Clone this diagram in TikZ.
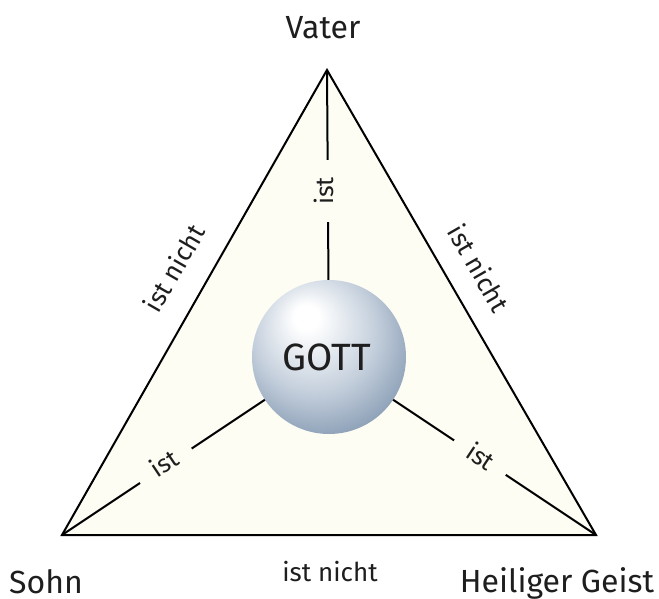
\documentclass[tikz,border=0pt]{standalone}
\usepackage{fontspec}
\setmainfont{Fira Sans}
\definecolor{cream}{RGB}{253,253,244}
\definecolor{ballmid}{RGB}{196,207,220}
\definecolor{balledge}{RGB}{112,136,164}
\definecolor{ink}{RGB}{30,30,30}
\pgfdeclareradialshading{gottball}{\pgfpoint{-8bp}{14bp}}{%
color(0bp)=(white); color(4bp)=(white); color(20bp)=(ballmid); color(34bp)=(balledge!80!ballmid); color(50bp)=(balledge)}
\begin{document}
\begin{tikzpicture}[x=1pt,y=-1pt,
  edge/.style={line width=2pt,line join=miter},
  spoke/.style={line width=2pt},
  lbl/.style={font=\fontsize{26}{30}\selectfont,inner sep=0pt,text=ink},
  biglbl/.style={font=\fontsize{32}{36}\selectfont,inner sep=0pt,text=ink,anchor=base},
  gap/.style={fill=cream,inner xsep=17pt,inner ysep=4pt,font=\fontsize{25}{28}\selectfont,text=ink}]
\useasboundingbox (0,0) rectangle (659,599);
\coordinate (V) at (327,70);
\coordinate (S) at (62,535);
\coordinate (H) at (596,535);
\coordinate (C) at (329,357);
\fill[cream] (V) -- (S) -- (H) -- cycle;
% spokes
\draw[spoke] (V) -- (C);
\draw[spoke] (S) -- (C);
\draw[spoke] (H) -- (C);
\node[gap,rotate=90] (i1) at (324,191) {ist};
\node[gap,rotate=33.7] (i2) at (164,463) {ist};
\node[gap,rotate=-33.7] (i3) at (481,456) {ist};
% triangle
\draw[edge] (V) -- (S) -- (H) -- cycle;
% ball
\node[circle,minimum size=154pt,inner sep=0pt,shading=gottball] (G) at (C) {};
\node[font=\fontsize{38}{44}\selectfont,text=ink] (g) at (327,357) {GOTT};
% edge labels
\node[lbl,rotate=60] (n1) at (174,268) {ist nicht};
\node[lbl,rotate=-60] (n2) at (479,268) {ist nicht};
\node[lbl,anchor=base] (n3) at (330,581) {ist nicht};
% vertex labels
\node[biglbl] (lv) at (323,39) {Vater};
\node[biglbl] (ls) at (46,593) {Sohn};
\node[biglbl] (lh) at (557,592) {Heiliger Geist};
\end{tikzpicture}
\end{document}
